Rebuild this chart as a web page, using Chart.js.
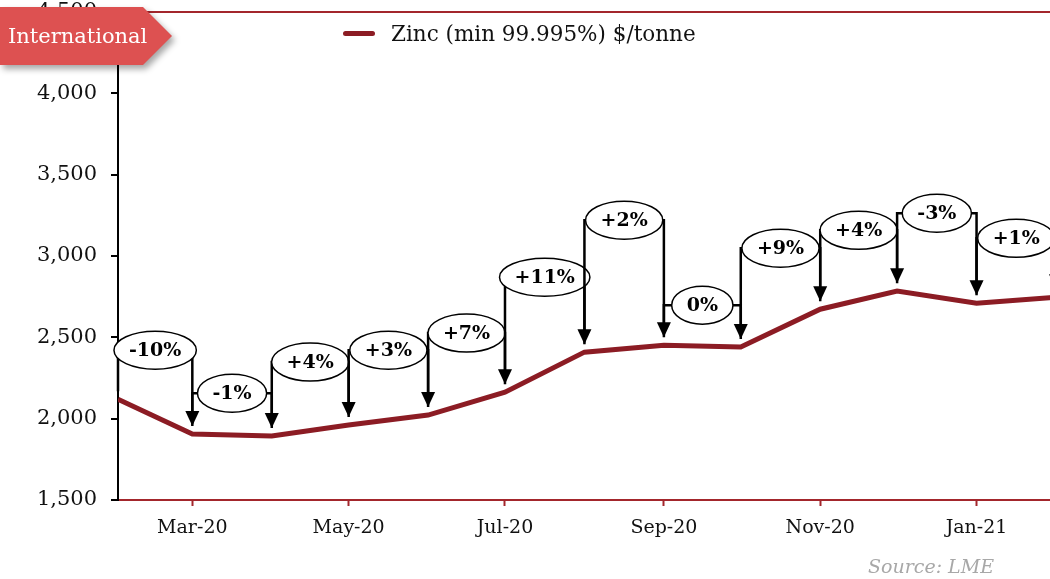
<!DOCTYPE html>
<html>
<head>
<meta charset="utf-8">
<script src="https://cdn.jsdelivr.net/npm/chart.js@4/dist/chart.umd.min.js"></script>
<style>
    body { margin: 0; width: 1050px; height: 579px; overflow: hidden; background: #fff; position: relative; }
    #wrap { position: absolute; left: 0; top: 0; width: 1062px; height: 579px; }
    .badge-shadow { position: absolute; left: 0; top: 7px; filter: drop-shadow(3px 4px 3px rgba(0,0,0,0.35)); }
    .badge { width: 172px; height: 58px; background: #dd5151; color: #fff;
        clip-path: polygon(0 0, 143px 0, 172px 29px, 143px 58px, 0 58px);
        font: 21px "DejaVu Serif", serif; line-height: 58px; padding-left: 8px; box-sizing: border-box; }
    .legend { position: absolute; left: 343px; top: 21px; font: 21.5px "DejaVu Serif", serif; color: #111; white-space: nowrap; }
    .legend span.swatch { display: inline-block; width: 32px; height: 5px; border-radius: 3px; background: #8c1c24; vertical-align: middle; margin-right: 16px; position: relative; top: -2px; }
    .source { position: absolute; left: 868px; top: 555px; font: italic 19px "DejaVu Serif", serif; color: #a8a8a8; }
</style>
</head>
<body>
<div id="wrap"><canvas id="zincChart"></canvas></div>
<div class="badge-shadow"><div class="badge">International</div></div>
<div class="legend"><span class="swatch"></span>Zinc (min 99.995%) $/tonne</div>
<div class="source">Source: LME</div>
<script>
// 月次データ（LME 亜鉛価格）
const months = ['Feb-20', 'Mar-20', 'Apr-20', 'May-20', 'Jun-20', 'Jul-20', 'Aug-20',
    'Sep-20', 'Oct-20', 'Nov-20', 'Dec-20', 'Jan-21', 'Feb-21'];
const zinc = [2120, 1905, 1893, 1961, 2022, 2163, 2409, 2452, 2440, 2673, 2784, 2710, 2747];
const changeLabels = ['-10%', '-1%', '+4%', '+3%', '+7%', '+11%', '+2%', '0%', '+9%', '+4%', '-3%', '+1%'];
const changeLevels = [2421, 2157, 2348, 2421, 2526, 2870, 3220, 2698, 3048, 3158, 3263, 3109];
const yTicks = [1500, 2000, 2500, 3000, 3500, 4000, 4500];

// 月ラベル → 2020/2/1 からの日数
const monthNames = ['Jan', 'Feb', 'Mar', 'Apr', 'May', 'Jun', 'Jul', 'Aug', 'Sep', 'Oct', 'Nov', 'Dec'];
const base = Date.UTC(2020, 1, 1);
const days = months.map(function (m) {
    const parts = m.split('-');
    return (Date.UTC(2000 + Number(parts[1]), monthNames.indexOf(parts[0]), 1) - base) / 86400000;
});

const lineColor = '#8c1c24';
const axisRed = '#a3262c';

// 変化率の矢印と楕円ラベル
const changeArrows = {
    id: 'changeArrows',
    afterDatasetsDraw(chart) {
        const ctx = chart.ctx;
        const x = chart.scales.x, y = chart.scales.y;
        ctx.save();
        ctx.font = 'bold 19px "DejaVu Serif", serif';
        for (let i = 0; i < changeLabels.length; i++) {
            const x0 = x.getPixelForValue(days[i]);
            const x1 = x.getPixelForValue(days[i + 1]);
            const y0 = y.getPixelForValue(zinc[i]) - 8;
            const y1 = y.getPixelForValue(zinc[i + 1]) - 8;
            const lv = y.getPixelForValue(changeLevels[i]);
            ctx.strokeStyle = '#000';
            ctx.lineWidth = 2.5;
            ctx.beginPath();
            ctx.moveTo(x0, y0);
            ctx.lineTo(x0, lv);
            ctx.lineTo(x1, lv);
            ctx.lineTo(x1, y1 - 12);
            ctx.stroke();
            ctx.fillStyle = '#000';
            ctx.beginPath();
            ctx.moveTo(x1 - 7, y1 - 15);
            ctx.lineTo(x1 + 7, y1 - 15);
            ctx.lineTo(x1, y1);
            ctx.closePath();
            ctx.fill();

            const tw = ctx.measureText(changeLabels[i]).width;
            const cx = (x0 + x1) / 2;
            ctx.beginPath();
            ctx.ellipse(cx, lv, tw / 2 + 15, 19, 0, 0, 2 * Math.PI);
            ctx.fillStyle = '#fff';
            ctx.fill();
            ctx.lineWidth = 1.5;
            ctx.stroke();
            ctx.fillStyle = '#000';
            ctx.textAlign = 'center';
            ctx.textBaseline = 'middle';
            ctx.fillText(changeLabels[i], cx, lv + 1);
        }
        ctx.restore();
    }
};

const ctxZinc = document.getElementById('zincChart').getContext('2d');
new Chart(ctxZinc, {
    type: 'line',
    data: {
        datasets: [{
            label: 'Zinc (min 99.995%) $/tonne',
            data: days.map(function (d, i) { return { x: d, y: zinc[i] }; }),
            borderColor: lineColor,
            borderWidth: 5,
            pointRadius: 0,
            tension: 0,
            fill: false
        }]
    },
    options: {
        responsive: true,
        maintainAspectRatio: false,
        animation: false,
        layout: { padding: { top: 12, right: 6, left: 0, bottom: 0 } },
        scales: {
            x: {
                type: 'linear',
                min: days[0],
                max: days[days.length - 1],
                afterBuildTicks: function (scale) {
                    scale.ticks = days.filter(function (d, i) { return i % 2 === 1 && i < days.length - 1; })
                        .map(function (d) { return { value: d }; });
                },
                afterFit: function (scale) {
                    scale.height = 79;
                    scale.paddingLeft = 0;
                    scale.paddingRight = 0;
                },
                ticks: {
                    autoSkip: false,
                    maxRotation: 0,
                    padding: 11,
                    color: '#111',
                    font: { family: '"DejaVu Serif", serif', size: 19 },
                    callback: function (value) { return months[days.indexOf(value)]; }
                },
                grid: {
                    drawOnChartArea: false,
                    tickLength: 6,
                    tickColor: axisRed,
                    tickWidth: 2
                },
                border: { color: axisRed, width: 2 }
            },
            y: {
                min: yTicks[0],
                max: yTicks[yTicks.length - 1],
                afterBuildTicks: function (scale) {
                    scale.ticks = yTicks.map(function (v) { return { value: v }; });
                },
                afterFit: function (scale) {
                    scale.width = 118;
                    scale.paddingTop = 0;
                    scale.paddingBottom = 0;
                },
                ticks: {
                    padding: 14,
                    color: '#111',
                    font: { family: '"DejaVu Serif", serif', size: 21 },
                    callback: function (value) { return value.toLocaleString('en-US'); }
                },
                grid: {
                    color: function (c) { return c.tick && c.tick.value === yTicks[yTicks.length - 1] ? axisRed : 'rgba(0,0,0,0)'; },
                    lineWidth: 2,
                    tickLength: 7,
                    tickColor: '#000',
                    tickWidth: 2
                },
                border: { color: '#000', width: 2 }
            }
        },
        plugins: {
            legend: { display: false },
            tooltip: { enabled: false }
        }
    },
    plugins: [changeArrows]
});
</script>
</body>
</html>
